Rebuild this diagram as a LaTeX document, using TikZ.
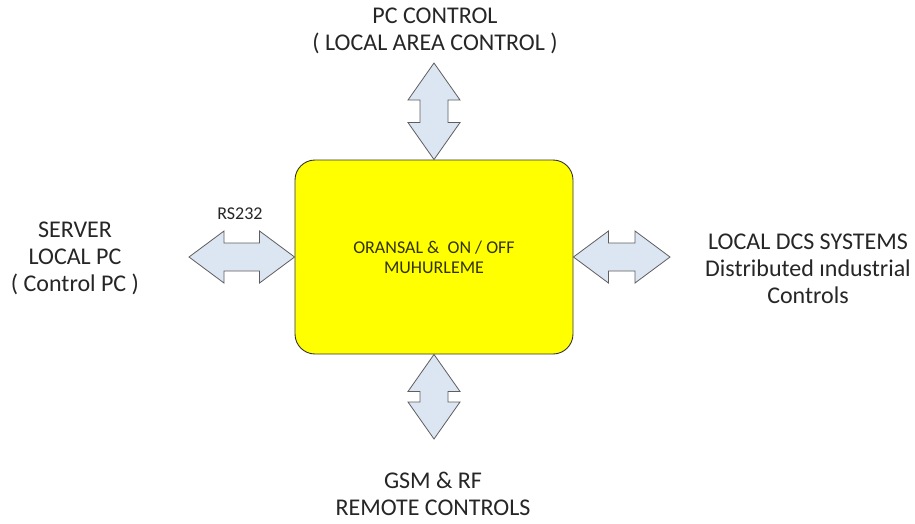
\documentclass[tikz,border=0pt]{standalone}
\usepackage{fontspec}
\setmainfont{Carlito}
\usetikzlibrary{calc}
\definecolor{arrfill}{HTML}{DCE6F2}
\definecolor{arrline}{HTML}{5E5E5E}
\definecolor{txt}{HTML}{262626}
\definecolor{boxtxt}{HTML}{33330A}
\definecolor{boxy}{RGB}{255,255,0}
\tikzset{
  dblarr/.style={draw=arrline, fill=arrfill, line width=0.8pt, line join=miter},
  lbl/.style={align=center, text=txt, font=\fontsize{24}{27}\selectfont, inner sep=0pt},
  mainbox/.style={draw=black!80, fill=boxy, rounded corners=20pt, line width=0.9pt,
    minimum width=278pt, minimum height=194pt, align=center, text=boxtxt,
    font=\fontsize{18}{20}\selectfont}
}
% horizontal double arrow: #1 left tip, #2 right tip
\newcommand\dblH[2]{%
  \draw[dblarr] let \p1=#1, \p2=#2 in
   (\x1,\y1) -- (\x1+35pt,\y1+26pt) -- (\x1+35pt,\y1+14pt) -- (\x2-35pt,\y1+14pt)
   -- (\x2-35pt,\y1+26pt) -- (\x2,\y1) -- (\x2-35pt,\y1-26pt) -- (\x2-35pt,\y1-14pt)
   -- (\x1+35pt,\y1-14pt) -- (\x1+35pt,\y1-26pt) -- cycle;}
% vertical double arrow: #1 top tip, #2 bottom tip
\newcommand\dblV[2]{%
  \draw[dblarr] let \p1=#1, \p2=#2 in
   (\x1,\y1) -- (\x1+26pt,\y1-37pt) -- (\x1+14pt,\y1-37pt) -- (\x1+14pt,\y2+37pt)
   -- (\x1+26pt,\y2+37pt) -- (\x1,\y2) -- (\x1-26pt,\y2+37pt) -- (\x1-14pt,\y2+37pt)
   -- (\x1-14pt,\y1-37pt) -- (\x1-26pt,\y1-37pt) -- cycle;}
\begin{document}
\begin{tikzpicture}[x=1pt,y=-1pt]
\useasboundingbox[fill=white] (0,0) rectangle (915,523);
\node[mainbox] (box) at (434,257) {ORANSAL \&\ \ ON / OFF\\MUHURLEME};
\coordinate (tt) at (434,63);
\coordinate (bt) at (434,439);
\coordinate (lt) at (189,257);
\coordinate (rt) at (670,257);
\dblV{(tt)}{(box.north)}
\dblV{(box.south)}{(bt)}
\dblH{(lt)}{(box.west)}
\dblH{(box.east)}{(rt)}
\node[lbl] (top) at (435,31) {PC CONTROL\\( LOCAL AREA CONTROL )};
\node[lbl] (left) at (75,258) {SERVER\\LOCAL PC\\( Control PC )};
\node[lbl] (right) at (808,269) {LOCAL DCS SYSTEMS\\Distributed ındustrial\\Controls};
\node[lbl] (bottom) at (433,494) {GSM \& RF\\REMOTE CONTROLS};
\node[text=txt, font=\fontsize{18}{20}\selectfont, inner sep=0pt] (rs) at (240,214) {RS232};
\end{tikzpicture}
\end{document}
